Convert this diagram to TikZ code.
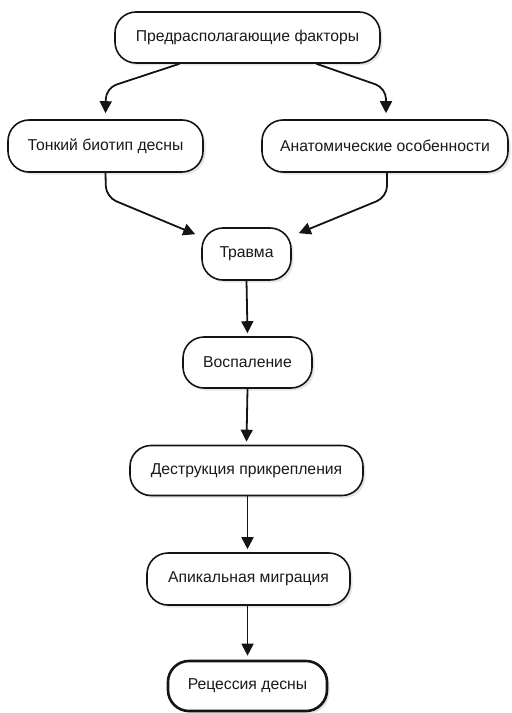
\documentclass[tikz,border=0pt]{standalone}
\usepackage{fontspec}
\setmainfont{Liberation Sans}
\usetikzlibrary{arrows.meta,shadows}
\begin{document}
\begin{tikzpicture}[x=1bp,y=-1bp,
  stage/.style={draw=black!92,line width=1.6bp,rounded corners=21bp,fill=white,
    font=\fontsize{15.8}{18}\selectfont,text=black!90,inner sep=0pt,
    drop shadow={opacity=0.2,shadow xshift=2.5bp,shadow yshift=-2.5bp}},
  final/.style={stage,line width=2.6bp},
  arr/.style={draw=black!92,line width=1.8bp,-{Triangle[length=12bp,width=12bp]},rounded corners=11bp}]
\useasboundingbox (0,0) rectangle (512,713);

\node[stage,minimum width=265bp,minimum height=51bp] (pre) at (247.5,37.5) {Предрасполагающие факторы};
\node[stage,minimum width=195bp,minimum height=52bp] (thin) at (105.5,146) {Тонкий биотип десны};
\node[stage,minimum width=246bp,minimum height=52bp] (anat) at (385,146) {Анатомические особенности};
\node[stage,minimum width=89bp,minimum height=52bp] (trauma) at (246.5,254) {Травма};
\node[stage,minimum width=129bp,minimum height=51bp] (infl) at (247.5,362.5) {Воспаление};
\node[stage,minimum width=233bp,minimum height=50bp] (destr) at (246.5,470.5) {Деструкция прикрепления};
\node[stage,minimum width=203bp,minimum height=52bp] (apic) at (248.5,579) {Апикальная миграция};
\node[final,minimum width=159bp,minimum height=50bp] (rec) at (247.5,686) {Рецессия десны};

% branches from the predisposing factors
\draw[arr] ([xshift=-68bp]pre.south) -- (106,88) -- ([yshift=6bp]thin.north);
\draw[arr] ([xshift=69bp]pre.south) -- (386,88) -- ([xshift=1bp,yshift=6bp]anat.north);

% both factors lead to trauma
\draw[arr] (thin.south) -- (106,197) -- ([xshift=-6bp,yshift=-7bp]trauma.north west);
\draw[arr] ([xshift=2bp]anat.south) -- (387,197) -- ([xshift=7bp,yshift=-6bp]trauma.north east);

% main chain
\draw[arr] (trauma.south) -- ([yshift=3bp]infl.north);
\draw[arr] (infl.south) -- ([yshift=3bp]destr.north);
\draw[arr] ([xshift=1bp]destr.south) -- ([xshift=-1bp,yshift=3bp]apic.north);
\draw[arr] ([xshift=-1bp]apic.south) -- ([yshift=4bp]rec.north);
\end{tikzpicture}
\end{document}
